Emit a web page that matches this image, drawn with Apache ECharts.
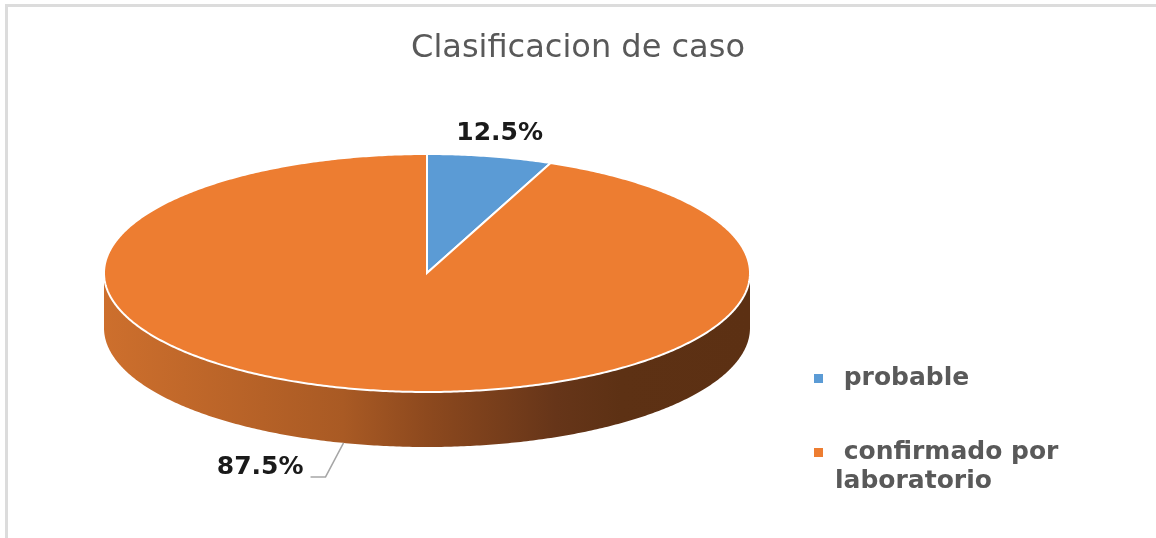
<!DOCTYPE html>
<html>
<head>
<meta charset="utf-8"/>
<script src="https://cdn.jsdelivr.net/npm/echarts@6/dist/echarts.min.js"></script>
<style>
    body { margin: 0; background: #fff; overflow: hidden; }
    #main { width: 1156px; height: 538px; }
    .edge { position: absolute; background: #dcdcdc; pointer-events: none; }
</style>
</head>
<body>
<div id="main"></div>
<div class="edge" style="left:5px;top:4px;width:1151px;height:3px;"></div>
<div class="edge" style="left:5px;top:4px;width:3px;height:534px;"></div>
<script type="text/javascript">
    // data
    var categories = ['probable', 'confirmado por laboratorio'];
    var sliceShare = [6.25, 93.75];          // slice sizes as drawn
    var shownLabels = ['12.5%', '87.5%'];    // label text as printed on the chart
    // leading blank line keeps the legend marker level with the first text line
    var legendText = [' probable', '\n confirmado por\nlaboratorio'];
    var sliceColors = ['#5b9bd5', '#ed7d31'];

    var myChart = echarts.init(document.getElementById('main'));

    // tilted disc geometry
    var cx = 427, cy = 273, rx = 323, ry = 119, depth = 55;
    var total = sliceShare.reduce(function (a, b) { return a + b; }, 0);

    function pt(a, dy, k) {
        k = k || 1;
        return [cx + rx * k * Math.sin(a), cy - ry * k * Math.cos(a) + (dy || 0)];
    }
    function arc(a0, a1, dy) {
        var n = Math.max(2, Math.ceil((a1 - a0) / 0.01));
        var out = [];
        for (var i = 0; i <= n; i++) out.push(pt(a0 + (a1 - a0) * i / n, dy));
        return out;
    }

    var sideGradient = new echarts.graphic.LinearGradient(cx - rx, 0, cx + rx, 0, [
        {offset: 0, color: '#cd6f2d'},
        {offset: 0.37, color: '#a95a24'},
        {offset: 0.5, color: '#8d491e'},
        {offset: 0.7, color: '#663519'},
        {offset: 0.8, color: '#5d3114'},
        {offset: 1, color: '#5c3013'}
    ], true);

    var labelStyle = {
        fontFamily: 'DejaVu Sans',
        fontWeight: 'bold',
        fontSize: 25,
        fill: '#1a1a1a'
    };

    function renderSlice(idx) {
        return function (params, api) {
            var before = 0;
            for (var i = 0; i < idx; i++) before += sliceShare[i];
            var v = api.value(0);
            var a0 = before / total * 2 * Math.PI;
            var a1 = (before + v) / total * 2 * Math.PI;
            var children = [];

            // visible front wall
            var s = Math.max(a0, Math.PI / 2), e = Math.min(a1, Math.PI * 1.5);
            if (e > s) {
                var top = arc(s, e, 0), bottom = arc(s, e, depth).reverse();
                children.push({
                    type: 'polygon',
                    shape: {points: top.concat(bottom)},
                    style: {fill: sideGradient}
                });
            }
            // top face
            children.push({
                type: 'polygon',
                shape: {points: [[cx, cy]].concat(arc(a0, a1, 0))},
                style: {fill: sliceColors[idx], stroke: '#fff', lineWidth: 2}
            });

            // label
            var mid = (a0 + a1) / 2;
            if (Math.cos(mid) > 0) {
                var p = pt(mid, 0, 1.2);
                children.push({
                    type: 'text', x: p[0] - 3, y: p[1] + 1,
                    style: echarts.util.extend({text: shownLabels[idx], align: 'center', verticalAlign: 'middle'}, labelStyle)
                });
            } else {
                var dir = Math.sin(mid) < 0 ? -1 : 1;
                var p0 = pt(mid + 0.065, depth);
                var p1 = [p0[0] + dir * 18, p0[1] + 34];
                var p2 = [p1[0] + dir * 15, p1[1]];
                children.push({
                    type: 'polyline',
                    shape: {points: [p0, p1, p2]},
                    style: {stroke: '#a6a6a6', lineWidth: 1.5, fill: null}
                });
                children.push({
                    type: 'text', x: p2[0] + dir * 7, y: p2[1] - 9,
                    style: echarts.util.extend({text: shownLabels[idx], align: dir < 0 ? 'right' : 'left', verticalAlign: 'middle'}, labelStyle)
                });
            }
            return {type: 'group', children: children};
        };
    }

    option = {
        backgroundColor: '#fff',
        animation: false,
        title: {
            text: 'Clasificacion de caso',
            left: 'center',
            top: 28,
            textStyle: {
                fontFamily: 'DejaVu Sans',
                fontWeight: 'normal',
                fontSize: 32,
                color: '#595959'
            }
        },
        legend: {
            orient: 'vertical',
            left: 814,
            top: 364,
            padding: 0,
            itemWidth: 9,
            itemHeight: 9,
            itemGap: 16,
            icon: 'rect',
            selectedMode: false,
            textStyle: {
                fontFamily: 'DejaVu Sans',
                fontWeight: 'bold',
                fontSize: 25,
                lineHeight: 29,
                color: '#595959',
                padding: [0, 0, 0, 7]
            },
            data: categories,
            formatter: function (name) {
                return legendText[categories.indexOf(name)];
            }
        },
        series: categories.map(function (name, i) {
            return {
                type: 'custom',
                name: name,
                coordinateSystem: 'none',
                silent: true,
                itemStyle: {color: sliceColors[i]},
                renderItem: renderSlice(i),
                data: [[sliceShare[i]]]
            };
        })
    };

    myChart.setOption(option);
</script>
</body>
</html>
